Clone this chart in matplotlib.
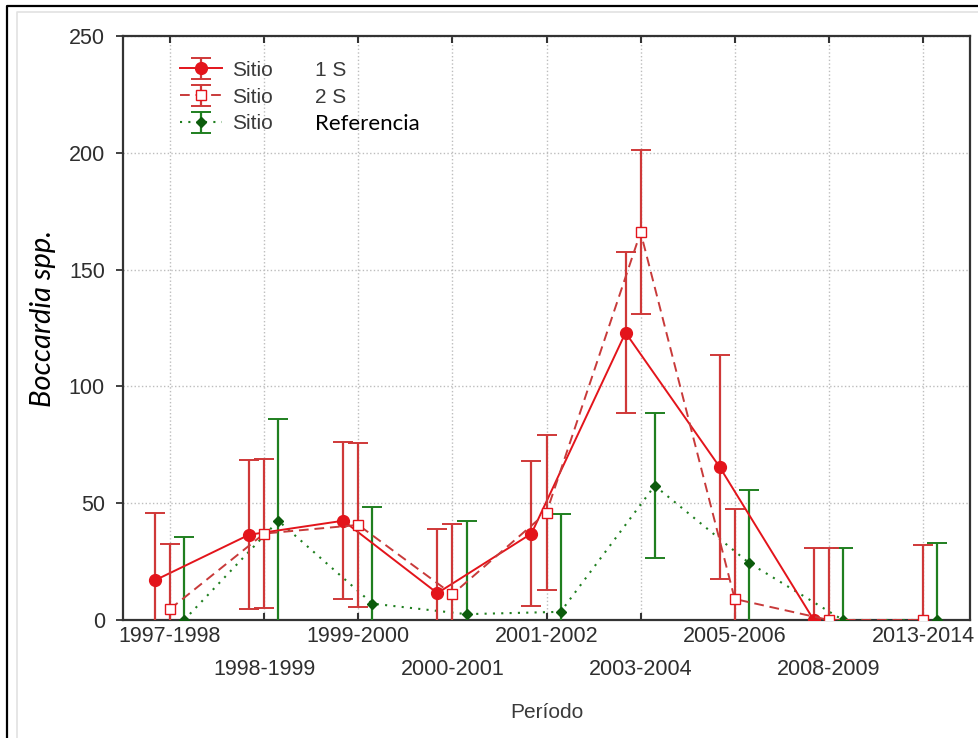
import numpy as np
import matplotlib
matplotlib.use("Agg")
import matplotlib.pyplot as plt
from matplotlib.lines import Line2D

# Datos
periodos = ["1997-1998", "1998-1999", "1999-2000", "2000-2001", "2001-2002",
            "2003-2004", "2005-2006", "2008-2009", "2013-2014"]
sitio1 = [17, 36.5, 42.5, 11.5, 37, 123, 65.5, 0, np.nan]
sitio1_err = [29, 32, 33.5, 27.5, 31, 34.5, 48, 31, np.nan]
sitio2 = [4.7, 37, 40.7, 11, 46, 166, 9, 0, 0]
sitio2_err = [28, 32, 35, 30, 33, 35, 38.5, 31, 32]
referencia = [0, 42.5, 7, 2.5, 3.5, 57.5, 24.5, 0, 0]
referencia_err = [35.5, 43.5, 41.5, 40, 42, 31, 31, 31, 33]

W, H = 979, 738
fig = plt.figure(figsize=(W / 100, H / 100), dpi=100)
ax = fig.add_axes([123 / W, 1 - 620 / H, (970 - 123) / W, (620 - 36) / H])

# marco exterior de la imagen
fig.add_artist(Line2D([7 / W, 7 / W, 1], [0, 1 - 6 / H, 1 - 6 / H],
                      transform=fig.transFigure, color="black", lw=1.6))
fig.add_artist(Line2D([17 / W, 17 / W, 1], [0, 1 - 12 / H, 1 - 12 / H],
                      transform=fig.transFigure, color="#e2e2e2", lw=1.2))

x = np.arange(len(periodos))
rojo = "#e3141b"
rojo_barra = "#cf3838"
verde = "#1f7f1f"

e1 = ax.errorbar(x - 0.16, sitio1, yerr=sitio1_err, color=rojo, ecolor=rojo_barra,
                 lw=1.4, elinewidth=1.6, capsize=7, capthick=1.4, marker="o",
                 markersize=8.5, mec=rojo, mfc=rojo, label="Sitio", zorder=4)
e2 = ax.errorbar(x, sitio2, yerr=sitio2_err, color="#c83a3a", ecolor=rojo_barra,
                 lw=1.4, ls=(0, (5, 3)), elinewidth=1.6, capsize=7, capthick=1.4,
                 marker="s", markersize=7.5, mec=rojo, mfc="white", label="Sitio",
                 zorder=5)
e3 = ax.errorbar(x + 0.15, referencia, yerr=referencia_err, color=verde, ecolor=verde,
                 lw=1.5, ls=(0, (1, 3)), elinewidth=1.6, capsize=7, capthick=1.4,
                 marker="D", markersize=5, mec="#0c5c0c", mfc="#0c5c0c",
                 label="Sitio", zorder=3)

ax.set_xlim(-0.5, len(periodos) - 0.5)
ax.set_ylim(0, 250)
ax.set_yticks(np.arange(0, 251, 50))

# etiquetas del eje x escalonadas
ax.set_xticks(x[::2])
ax.set_xticklabels(periodos[::2])
ax.set_xticks(x[1::2], minor=True)
ax.set_xticklabels(periodos[1::2], minor=True)

ax.grid(True, which="both", axis="x", color="#bdbdbd", ls=":", lw=1)
ax.grid(True, which="major", axis="y", color="#bdbdbd", ls=":", lw=1)
ax.set_axisbelow(True)

for lbl in ax.get_xticklabels(which="both") + ax.get_yticklabels():
    lbl.set_fontfamily("Liberation Sans")
    lbl.set_fontsize(15.5)
    lbl.set_color("#2e2e2e")

ax.tick_params(axis="x", which="major", direction="in", top=True, length=5,
               width=1.5, color="#333333", pad=4)
ax.tick_params(axis="x", which="minor", direction="in", top=True, length=5,
               width=1.5, color="#333333", pad=28)
ax.tick_params(axis="y", direction="out", length=5, width=1.3, color="#333333",
               pad=8)

for s in ax.spines.values():
    s.set_color("#333333")
    s.set_linewidth(1.6)

ax.set_xlabel("Período", fontfamily="Liberation Sans", fontsize=15,
              color="#3a3a3a", labelpad=17)
fig.text(43 / W, 1 - 318 / H, "Boccardia spp.", rotation=90, ha="center",
         va="center", fontfamily="Lato", fontstyle="italic", fontsize=21,
         color="black")

leg = ax.legend(handles=[e1, e2, e3], loc="upper left",
                bbox_to_anchor=(0.045, 0.99), frameon=False, handlelength=2.0,
                handletextpad=0.5, labelspacing=0.38,
                prop={"family": "Liberation Sans", "size": 15})
for t in leg.get_texts():
    t.set_color("#3a3a3a")

# segunda parte de las etiquetas de la leyenda
fig.canvas.draw()
rend = fig.canvas.get_renderer()
segundas = ["1 S", "2 S", "Referencia"]
for t, s in zip(leg.get_texts(), segundas):
    bb = t.get_window_extent(rend)
    yc = (bb.y0 + bb.y1) / 2
    if s == "Referencia":
        fig.text(315 / W, yc / H, s, ha="left", va="center", fontfamily="Lato",
                 fontsize=16, color="black")
    else:
        fig.text(315 / W, yc / H, s, ha="left", va="center",
                 fontfamily="Liberation Sans", fontsize=15, color="#3a3a3a")

fig.savefig("out.png", dpi=100)
